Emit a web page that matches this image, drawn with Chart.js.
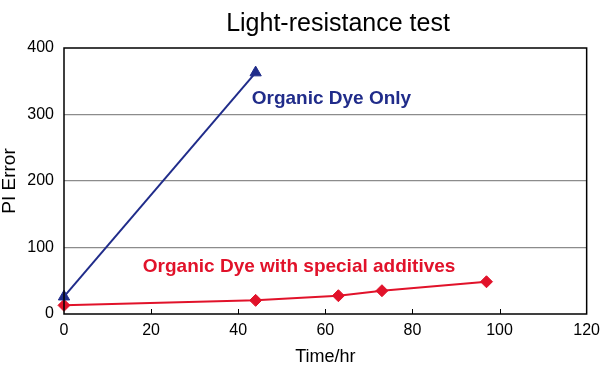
<!DOCTYPE html>
<html>
<head>
<meta charset="utf-8">
<script src="https://cdn.jsdelivr.net/npm/chart.js@4"></script>
<style>
  html, body { margin: 0; padding: 0; background: #fff; }
  #wrap { width: 607px; height: 376px; }
</style>
</head>
<body>
<div id="wrap"><canvas id="lightChart" width="607" height="376"></canvas></div>
<script>
// Light-resistance test data
const timeDyeOnly = [0, 44];
const errorDyeOnly = [26, 363];
const timeAdditives = [0, 44, 63, 73, 97];
const errorAdditives = [13, 20.5, 27.5, 35, 48.5];

const xTicks = [0, 20, 40, 60, 80, 100, 120];
const yTicks = [0, 100, 200, 300, 400];

const chartTitle = 'Light-resistance test';
const seriesNames = ['Organic Dye Only', 'Organic Dye with special additives'];
const labelAnchorX = [43.1, 18.1];
const labelAnchorY = [324, 71];

const navy = '#202c8a';
const red = '#e1122a';
const seriesColors = [navy, red];

function toPoints(xs, ys) {
    return xs.map((x, i) => ({ x: x, y: ys[i] }));
}

// title, frame, inner x ticks and series labels
const decorPlugin = {
    id: 'decor',
    afterDraw(chart) {
        const ctx = chart.ctx;
        const area = chart.chartArea;
        const xs = chart.scales.x;
        const ys = chart.scales.y;
        ctx.save();
        ctx.strokeStyle = '#000';
        ctx.lineWidth = 1.5;
        ctx.strokeRect(area.left, area.top, area.right - area.left, area.bottom - area.top);
        ctx.lineWidth = 1;
        xTicks.slice(1, -1).forEach(v => {
            const px = Math.round(xs.getPixelForValue(v)) + 0.5;
            ctx.beginPath();
            ctx.moveTo(px, area.bottom);
            ctx.lineTo(px, area.bottom - 5);
            ctx.stroke();
        });

        ctx.fillStyle = '#000';
        ctx.font = '25px "Liberation Sans", Arial, sans-serif';
        ctx.textAlign = 'center';
        ctx.textBaseline = 'middle';
        ctx.fillText(chartTitle, 338, 24);

        ctx.font = 'bold 19px "Liberation Sans", Arial, sans-serif';
        ctx.textAlign = 'left';
        seriesNames.forEach((name, i) => {
            ctx.fillStyle = seriesColors[i];
            ctx.fillText(name, xs.getPixelForValue(labelAnchorX[i]), ys.getPixelForValue(labelAnchorY[i]));
        });
        ctx.restore();
    }
};

new Chart(document.getElementById('lightChart'), {
    type: 'line',
    data: {
        datasets: [
            {
                label: seriesNames[0],
                data: toPoints(timeDyeOnly, errorDyeOnly),
                borderColor: navy,
                backgroundColor: navy,
                borderWidth: 2,
                pointStyle: 'triangle',
                pointRadius: 6.5,
                pointBorderWidth: 1,
                tension: 0,
                clip: false
            },
            {
                label: seriesNames[1],
                data: toPoints(timeAdditives, errorAdditives),
                borderColor: red,
                backgroundColor: red,
                borderWidth: 2,
                pointStyle: 'rectRot',
                pointRadius: 6,
                pointBorderWidth: 1,
                tension: 0,
                clip: false
            }
        ]
    },
    options: {
        responsive: false,
        animation: false,
        layout: { padding: { left: 0, right: 19, top: 48, bottom: 0 } },
        plugins: {
            legend: { display: false },
            tooltip: { enabled: false },
            title: { display: false }
        },
        scales: {
            x: {
                type: 'linear',
                min: 0,
                max: 120,
                afterBuildTicks: scale => { scale.ticks = xTicks.map(v => ({ value: v })); },
                afterFit: scale => { scale.height = 62; },
                grid: { display: false, drawTicks: false },
                border: { display: false },
                ticks: {
                    color: '#000',
                    padding: 7,
                    font: { family: '"Liberation Sans", Arial, sans-serif', size: 16 }
                },
                title: {
                    display: true,
                    text: 'Time/hr',
                    color: '#000',
                    font: { family: '"Liberation Sans", Arial, sans-serif', size: 18, lineHeight: 1.2 },
                    padding: { top: 0, bottom: 8 }
                }
            },
            y: {
                min: 0,
                max: 400,
                afterBuildTicks: scale => { scale.ticks = yTicks.map(v => ({ value: v })); },
                afterFit: scale => { scale.width = 64; },
                grid: {
                    drawTicks: false,
                    color: ctx => (ctx.tick && (ctx.tick.value === 0 || ctx.tick.value === 400)) ? 'rgba(0,0,0,0)' : '#8c8c8c',
                    lineWidth: 1.2
                },
                border: { display: false },
                ticks: {
                    color: '#000',
                    padding: 10,
                    font: { family: '"Liberation Sans", Arial, sans-serif', size: 16 }
                },
                title: {
                    display: true,
                    text: 'PI Error',
                    color: '#000',
                    font: { family: '"Liberation Sans", Arial, sans-serif', size: 19, lineHeight: 1.0 },
                    padding: { top: 0, bottom: 0 }
                }
            }
        }
    },
    plugins: [decorPlugin]
});
</script>
</body>
</html>
